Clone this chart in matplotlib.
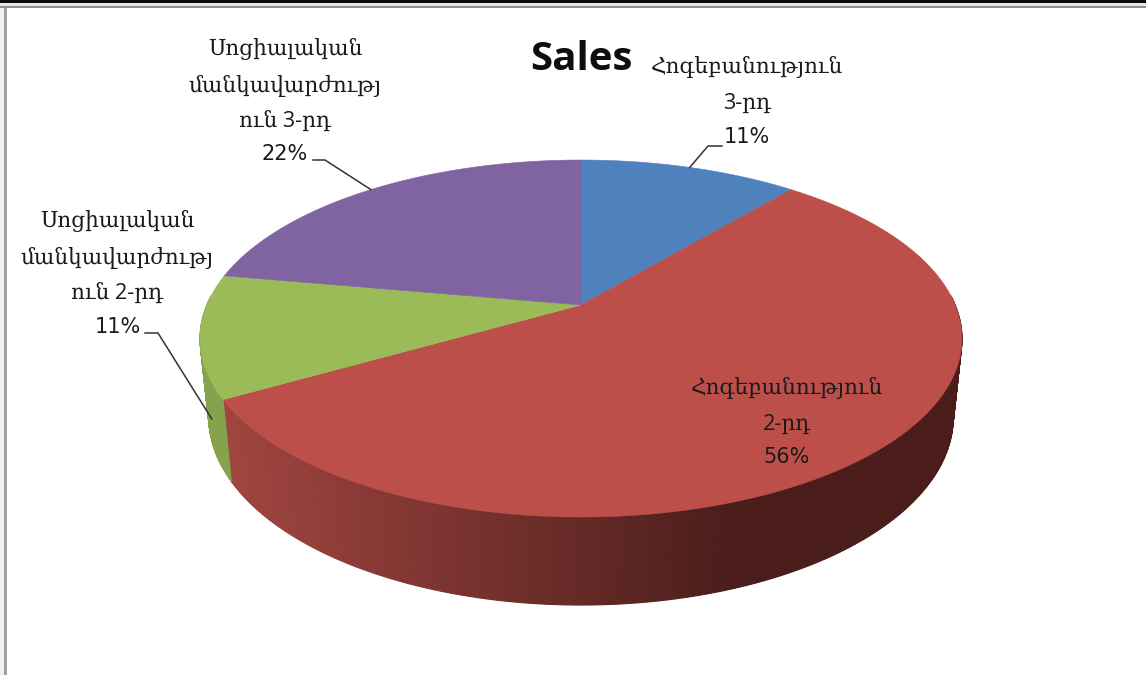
import numpy as np
import matplotlib
matplotlib.use("Agg")
import matplotlib.pyplot as plt
from matplotlib.patches import Polygon

title = "Sales"
categories = ["Հոգեբանություն\n3-րդ", "Հոգեբանություն\n2-րդ",
              "Սոցիալական\nմանկավարժությ\nուն 2-րդ", "Սոցիալական\nմանկավարժությ\nուն 3-րդ"]
shares = [11.1, 55.6, 11.1, 22.2]
percent_labels = ["11%", "56%", "11%", "22%"]
top_colors = ["#4F81BD", "#BD4F4B", "#9BBB59", "#8064A2"]
wall_left = [(0.31, 0.51, 0.74), (0.63, 0.27, 0.25), (0.52, 0.64, 0.30), (0.50, 0.39, 0.64)]
wall_right = [(0.15, 0.25, 0.37), (0.29, 0.115, 0.105), (0.30, 0.37, 0.17), (0.25, 0.2, 0.32)]

W, H = 1146, 675
fig = plt.figure(figsize=(W / 100, H / 100), dpi=100, facecolor="white")
ax = fig.add_axes([0, 0, 1, 1])
ax.set_xlim(0, W)
ax.set_ylim(H, 0)
ax.axis("off")

# perspective view of the pie disc
CX, CY, A, B, K = 581, 305, 374.2, 172.2, 0.1877


def top(theta):
    u, v = np.sin(theta), np.cos(theta)
    w = 1 + K * v
    return CX + A * u / w, CY - B * v / w


def bottom(theta):
    u, v = np.sin(theta), np.cos(theta)
    w = 1 + K * v
    return CX + 0.977 * A * u / w, 381.8 - 1.053 * B * v / w


fractions = np.cumsum([0] + shares) / sum(shares)
starts, ends = 2 * np.pi * fractions[:-1], 2 * np.pi * fractions[1:]
mids = (starts + ends) / 2

# side wall, front half only
for s, e, cl, cr in zip(starts, ends, wall_left, wall_right):
    th = np.linspace(s, e, max(int((e - s) * 120), 2))
    for a0, a1 in zip(th[:-1], th[1:]):
        if np.cos(a0) > 0.05 and np.cos(a1) > 0.05:
            continue
        tx0, ty0 = top(a0)
        tx1, ty1 = top(a1)
        bx0, by0 = bottom(a0)
        bx1, by1 = bottom(a1)
        f = np.clip(((tx0 + tx1) / 2 - 225) / 510, 0, 1)
        col = tuple((1 - f) * np.array(cl) + f * np.array(cr))
        ax.add_patch(Polygon([(tx0, ty0), (tx1, ty1), (bx1, by1), (bx0, by0)],
                             closed=True, fc=col, ec=col, lw=0.8, zorder=2))

# top face
for s, e, c in zip(starts, ends, top_colors):
    th = np.linspace(s, e, 200)
    x, y = top(th)
    pts = np.column_stack([np.r_[CX, x], np.r_[CY, y]])
    ax.add_patch(Polygon(pts, closed=True, fc=c, ec=c, lw=0.4, zorder=3))

# window frame
ax.fill_between([0, W], 0, 3, color="#0a0a0a", lw=0, zorder=6)
ax.fill_between([0, W], 3, 5.5, color="#e8e8e8", lw=0, zorder=5)
ax.fill_between([0, W], 5.5, 7.5, color="#8f8f8f", lw=0, zorder=5)
ax.fill_between([0, 4.2], 7.5, H, color="#f0f0f0", lw=0, zorder=5)
ax.fill_between([4.2, 6.5], 7.5, H, color="#a0a0a0", lw=0, zorder=5)

# leader lines end on the slice mid-angle
lc = "#333333"
ex, ey = top(mids[0])
ax.plot([ex, 708, 722], [ey, 146, 146], color=lc, lw=1.1, zorder=4)
ex, ey = top(mids[3])
ax.plot([313, 325, ex], [160, 160, ey], color=lc, lw=1.1, zorder=4)
ex, ey = bottom(mids[2])
ax.plot([145, 158, ex + 3], [333, 333, ey + 5], color=lc, lw=1.1, zorder=4)

name_style = dict(ha="center", va="center", family=["Open Sans", "DejaVu Serif"], fontsize=15.6,
                  color="#1a1a1a", linespacing=1.88, zorder=7)
pct_style = dict(ha="center", va="center", family="DejaVu Sans", fontsize=15,
                 color="#1a1a1a", zorder=7)
name_positions = [(747, 85), (787, 406), (117, 257), (285, 85)]
pct_positions = [(747, 137), (787, 457), (118, 327), (285, 154)]
for name, pct, np_, pp in zip(categories, percent_labels, name_positions, pct_positions):
    ax.text(np_[0], np_[1], name, **name_style)
    ax.text(pp[0], pp[1], pct, **pct_style)

ax.text(581, 60, title, ha="center", va="center", family="Open Sans", fontweight="bold",
        fontsize=29, color="#0d0d0d", zorder=7)

fig.savefig("out.png", dpi=100, facecolor="white")
